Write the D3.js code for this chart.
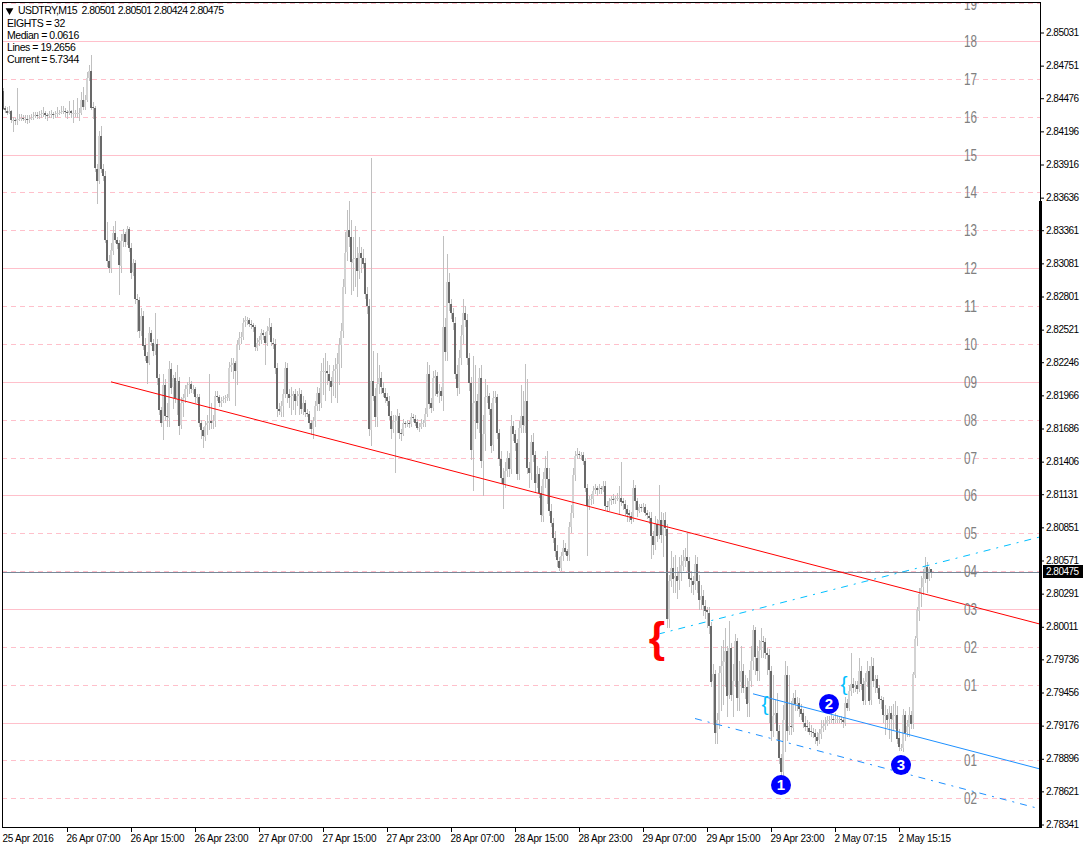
<!DOCTYPE html>
<html>
<head>
<meta charset="utf-8">
<title>USDTRY,M15</title>
<script src="https://cdnjs.cloudflare.com/ajax/libs/d3/7.8.5/d3.min.js"></script>
<style>
    html, body { margin: 0; background: #fff; }
    svg { display: block; }
    text { font-family: "Liberation Sans", Arial, sans-serif; }
</style>
</head>
<body>
<div id="chart"></div>
<script>
'use strict';

const symbolTitle = 'USDTRY,M15  2.80501 2.80501 2.80424 2.80475';
const infoLines = ['EIGHTS = 32', 'Median = 0.0616', 'Lines = 19.2656', 'Current = 5.7344'];

const priceTicks = [2.85031, 2.84751, 2.84476, 2.84196, 2.83916, 2.83636, 2.83361, 2.83081, 2.82801, 2.82521,
    2.82246, 2.81966, 2.81686, 2.81406, 2.81131, 2.80851, 2.80571, 2.80291, 2.80011, 2.79736,
    2.79456, 2.79176, 2.78896, 2.78621, 2.78341];
const timeTickBars = [0, 32, 64, 96, 128, 160, 192, 224, 256, 288, 320, 352, 384, 416, 448];
const timeLabels = ['25 Apr 2016', '26 Apr 07:00', '26 Apr 15:00', '26 Apr 23:00', '27 Apr 07:00', '27 Apr 15:00',
    '27 Apr 23:00', '28 Apr 07:00', '28 Apr 15:00', '28 Apr 23:00', '29 Apr 07:00', '29 Apr 15:00',
    '29 Apr 23:00', '2 May 07:15', '2 May 15:15'];

const levelPrices = [2.85272, 2.84955, 2.84634, 2.84313, 2.83992, 2.83679, 2.83358, 2.83038, 2.82717, 2.82396, 2.82075,
    2.81754, 2.81433, 2.81120, 2.80799, 2.80478, 2.80157, 2.79836, 2.79515, 2.79194, 2.78882, 2.78561];
const levelLabels = ['19', '18', '17', '16', '15', '14', '13', '12', '11', '10', '09',
    '08', '07', '06', '05', '04', '03', '02', '01', '', '01', '02'];
const levelSolid = [false, true, false, false, true, false, false, true, false, false, true,
    false, false, true, false, false, true, false, false, true, false, false];

const currentPrice = 2.80475;
const firstOpen = 2.8454;

const closes = [
    2.8439, 2.8437, 2.8435, 2.8437, 2.8429, 2.8429, 2.8428, 2.8430, 2.8430, 2.8431,
    2.8430, 2.8430, 2.8429, 2.8430, 2.8431, 2.8432, 2.8433, 2.8432, 2.8433, 2.8434,
    2.8435, 2.8433, 2.8432, 2.8434, 2.8434, 2.8433, 2.8434, 2.8435, 2.8435, 2.8436,
    2.8437, 2.8436, 2.8435, 2.8437, 2.8435, 2.8435, 2.8435, 2.8435, 2.8435, 2.8446,
    2.8440, 2.8446, 2.8465, 2.8471, 2.8440, 2.8439, 2.8388, 2.8378, 2.8416, 2.8388,
    2.8382, 2.8328, 2.8310, 2.8304, 2.8319, 2.8334, 2.8328, 2.8325, 2.8306, 2.8327,
    2.8333, 2.8326, 2.8337, 2.8321, 2.8300, 2.8308, 2.8278, 2.8277, 2.8251, 2.8264,
    2.8239, 2.8230, 2.8224, 2.8249, 2.8241, 2.8234, 2.8240, 2.8211, 2.8184, 2.8173,
    2.8205, 2.8179, 2.8178, 2.8219, 2.8203, 2.8211, 2.8194, 2.8209, 2.8171, 2.8190,
    2.8194, 2.8202, 2.8205, 2.8206, 2.8202, 2.8202, 2.8195, 2.8195, 2.8173, 2.8167,
    2.8162, 2.8171, 2.8173, 2.8175, 2.8173, 2.8175, 2.8196, 2.8195, 2.8190, 2.8192,
    2.8193, 2.8194, 2.8195, 2.8220, 2.8222, 2.8224, 2.8217, 2.8239, 2.8245, 2.8246,
    2.8258, 2.8260, 2.8260, 2.8257, 2.8256, 2.8254, 2.8237, 2.8241, 2.8243, 2.8249,
    2.8247, 2.8241, 2.8251, 2.8254, 2.8241, 2.8240, 2.8220, 2.8185, 2.8183, 2.8188,
    2.8198, 2.8220, 2.8198, 2.8195, 2.8196, 2.8198, 2.8192, 2.8196, 2.8198, 2.8185,
    2.8190, 2.8182, 2.8181, 2.8173, 2.8168, 2.8175, 2.8188, 2.8199, 2.8190, 2.8217,
    2.8217, 2.8217, 2.8215, 2.8209, 2.8204, 2.8217, 2.8219, 2.8223, 2.8239, 2.8251,
    2.8288, 2.8317, 2.8336, 2.8330, 2.8309, 2.8312, 2.8313, 2.8302, 2.8317, 2.8313,
    2.8308, 2.8282, 2.8272, 2.8168, 2.8209, 2.8196, 2.8178, 2.8206, 2.8211, 2.8203,
    2.8199, 2.8195, 2.8192, 2.8179, 2.8168, 2.8175, 2.8175, 2.8179, 2.8165, 2.8164,
    2.8173, 2.8172, 2.8173, 2.8172, 2.8178, 2.8177, 2.8174, 2.8169, 2.8170, 2.8173,
    2.8173, 2.8181, 2.8215, 2.8190, 2.8186, 2.8211, 2.8213, 2.8198, 2.8200, 2.8196,
    2.8254, 2.8233, 2.8292, 2.8274, 2.8266, 2.8258, 2.8215, 2.8203, 2.8228, 2.8247,
    2.8266, 2.8260, 2.8228, 2.8207, 2.8150, 2.8190, 2.8192, 2.8173, 2.8211, 2.8141,
    2.8164, 2.8195, 2.8196, 2.8185, 2.8154, 2.8194, 2.8195, 2.8165, 2.8143, 2.8127,
    2.8122, 2.8133, 2.8144, 2.8135, 2.8171, 2.8164, 2.8156, 2.8130, 2.8169, 2.8179,
    2.8171, 2.8192, 2.8135, 2.8131, 2.8157, 2.8146, 2.8122, 2.8130, 2.8114, 2.8095,
    2.8126, 2.8135, 2.8126, 2.8099, 2.8089, 2.8076, 2.8065, 2.8057, 2.8051, 2.8061,
    2.8068, 2.8065, 2.8061, 2.8085, 2.8097, 2.8129, 2.8145, 2.8147, 2.8146, 2.8146,
    2.8141, 2.8118, 2.8103, 2.8109, 2.8109, 2.8116, 2.8118, 2.8116, 2.8118, 2.8117,
    2.8120, 2.8103, 2.8102, 2.8107, 2.8109, 2.8108, 2.8110, 2.8110, 2.8110, 2.8107,
    2.8105, 2.8101, 2.8097, 2.8095, 2.8092, 2.8118, 2.8107, 2.8099, 2.8102, 2.8101,
    2.8102, 2.8097, 2.8095, 2.8093, 2.8078, 2.8070, 2.8088, 2.8078, 2.8091, 2.8078,
    2.8091, 2.8084, 2.8008, 2.8040, 2.8051, 2.8042, 2.8044, 2.8040, 2.8047, 2.8053,
    2.8057, 2.8060, 2.8057, 2.8042, 2.8040, 2.8037, 2.8054, 2.8040, 2.8024, 2.8027,
    2.8019, 2.8015, 2.8013, 2.8002, 2.7955, 2.7961, 2.7911, 2.7922, 2.7962, 2.7968,
    2.7972, 2.7981, 2.7943, 2.7983, 2.7943, 2.7955, 2.7989, 2.7941, 2.7955, 2.7964,
    2.7950, 2.7950, 2.7936, 2.7955, 2.7972, 2.7998, 2.7975, 2.7964, 2.7981, 2.7989,
    2.7988, 2.7979, 2.7977, 2.7964, 2.7913, 2.7926, 2.7928, 2.7913, 2.7890, 2.7878,
    2.7922, 2.7960, 2.7913, 2.7917, 2.7916, 2.7941, 2.7936, 2.7937, 2.7932, 2.7928,
    2.7920, 2.7917, 2.7916, 2.7913, 2.7912, 2.7911, 2.7908, 2.7905, 2.7911, 2.7915,
    2.7917, 2.7919, 2.7922, 2.7922, 2.7923, 2.7922, 2.7923, 2.7923, 2.7923, 2.7922,
    2.7920, 2.7937, 2.7933, 2.7947, 2.7953, 2.7950, 2.7952, 2.7949, 2.7964, 2.7953,
    2.7939, 2.7955, 2.7964, 2.7939, 2.7968, 2.7955, 2.7957, 2.7949, 2.7940, 2.7939,
    2.7926, 2.7927, 2.7923, 2.7928, 2.7923, 2.7927, 2.7927, 2.7907, 2.7899, 2.7899,
    2.7927, 2.7912, 2.7917, 2.7927, 2.7919, 2.7961, 2.7991, 2.8015, 2.8029, 2.8034,
    2.8042, 2.8052, 2.8042, 2.80501, 2.80475
];

const highs = [
    2.8456, 2.8441, 2.8440, 2.8441, 2.8438, 2.8432, 2.8431, 2.8456, 2.8434, 2.8434,
    2.8433, 2.8433, 2.8433, 2.8433, 2.8434, 2.8436, 2.8436, 2.8436, 2.8437, 2.8438,
    2.8440, 2.8437, 2.8435, 2.8437, 2.8438, 2.8436, 2.8437, 2.8440, 2.8438, 2.8441,
    2.8441, 2.8439, 2.8438, 2.8445, 2.8438, 2.8446, 2.8438, 2.8448, 2.8439, 2.8453,
    2.8457, 2.8450, 2.8470, 2.8476, 2.8484, 2.8444, 2.8441, 2.8392, 2.8420, 2.8424,
    2.8392, 2.8386, 2.8343, 2.8315, 2.8325, 2.8340, 2.8344, 2.8330, 2.8328, 2.8333,
    2.8337, 2.8335, 2.8340, 2.8339, 2.8325, 2.8312, 2.8311, 2.8282, 2.8280, 2.8270,
    2.8268, 2.8245, 2.8233, 2.8254, 2.8252, 2.8244, 2.8266, 2.8244, 2.8215, 2.8187,
    2.8215, 2.8210, 2.8190, 2.8226, 2.8224, 2.8214, 2.8216, 2.8222, 2.8212, 2.8195,
    2.8198, 2.8205, 2.8208, 2.8212, 2.8209, 2.8205, 2.8204, 2.8198, 2.8198, 2.8176,
    2.8170, 2.8175, 2.8180, 2.8215, 2.8190, 2.8180, 2.8200, 2.8200, 2.8197, 2.8195,
    2.8196, 2.8197, 2.8198, 2.8225, 2.8228, 2.8228, 2.8226, 2.8243, 2.8250, 2.8250,
    2.8262, 2.8264, 2.8263, 2.8262, 2.8260, 2.8258, 2.8256, 2.8245, 2.8247, 2.8253,
    2.8252, 2.8250, 2.8255, 2.8262, 2.8258, 2.8245, 2.8244, 2.8224, 2.8190, 2.8192,
    2.8202, 2.8225, 2.8224, 2.8202, 2.8204, 2.8200, 2.8202, 2.8200, 2.8203, 2.8201,
    2.8196, 2.8193, 2.8185, 2.8183, 2.8176, 2.8178, 2.8192, 2.8204, 2.8203, 2.8224,
    2.8228, 2.8232, 2.8226, 2.8222, 2.8212, 2.8222, 2.8228, 2.8232, 2.8245, 2.8258,
    2.8295, 2.8335, 2.8353, 2.8361, 2.8345, 2.8330, 2.8340, 2.8322, 2.8330, 2.8322,
    2.8320, 2.8313, 2.8288, 2.8278, 2.8397, 2.8234, 2.8203, 2.8232, 2.8222, 2.8216,
    2.8208, 2.8203, 2.8199, 2.8196, 2.8183, 2.8180, 2.8180, 2.8185, 2.8182, 2.8168,
    2.8177, 2.8175, 2.8176, 2.8175, 2.8182, 2.8181, 2.8180, 2.8177, 2.8173, 2.8177,
    2.8176, 2.8186, 2.8225, 2.8222, 2.8194, 2.8217, 2.8218, 2.8216, 2.8206, 2.8204,
    2.8331, 2.8262, 2.8316, 2.8300, 2.8278, 2.8270, 2.8263, 2.8222, 2.8235, 2.8256,
    2.8278, 2.8272, 2.8265, 2.8232, 2.8212, 2.8230, 2.8222, 2.8198, 2.8220, 2.8222,
    2.8180, 2.8210, 2.8205, 2.8199, 2.8190, 2.8200, 2.8200, 2.8198, 2.8168, 2.8150,
    2.8135, 2.8140, 2.8150, 2.8148, 2.8180, 2.8175, 2.8167, 2.8160, 2.8175, 2.8205,
    2.8200, 2.8223, 2.8210, 2.8140, 2.8163, 2.8165, 2.8150, 2.8137, 2.8135, 2.8120,
    2.8132, 2.8145, 2.8150, 2.8135, 2.8105, 2.8093, 2.8082, 2.8070, 2.8060, 2.8064,
    2.8074, 2.8072, 2.8067, 2.8090, 2.8104, 2.8135, 2.8150, 2.8152, 2.8150, 2.8149,
    2.8149, 2.8144, 2.8122, 2.8112, 2.8113, 2.8120, 2.8122, 2.8120, 2.8122, 2.8120,
    2.8124, 2.8124, 2.8107, 2.8110, 2.8112, 2.8113, 2.8112, 2.8114, 2.8120, 2.8140,
    2.8110, 2.8108, 2.8104, 2.8100, 2.8098, 2.8125, 2.8121, 2.8110, 2.8105, 2.8105,
    2.8106, 2.8105, 2.8100, 2.8098, 2.8098, 2.8082, 2.8095, 2.8092, 2.8121, 2.8098,
    2.8097, 2.8098, 2.8088, 2.8045, 2.8065, 2.8060, 2.8062, 2.8052, 2.8060, 2.8062,
    2.8066, 2.8068, 2.8081, 2.8060, 2.8048, 2.8044, 2.8062, 2.8060, 2.8045, 2.8036,
    2.8032, 2.8024, 2.8018, 2.8018, 2.8005, 2.7970, 2.7965, 2.7928, 2.7968, 2.7985,
    2.7990, 2.8000, 2.7985, 2.8006, 2.7987, 2.7970, 2.7995, 2.7992, 2.7972, 2.7985,
    2.7970, 2.7960, 2.7958, 2.7965, 2.7985, 2.8003, 2.8001, 2.7985, 2.7990, 2.8000,
    2.7993, 2.7992, 2.7983, 2.7982, 2.7968, 2.7960, 2.7940, 2.7945, 2.7918, 2.7894,
    2.7935, 2.7972, 2.7968, 2.7960, 2.7938, 2.7945, 2.7948, 2.7942, 2.7941, 2.7936,
    2.7932, 2.7926, 2.7922, 2.7921, 2.7918, 2.7916, 2.7915, 2.7912, 2.7915, 2.7922,
    2.7922, 2.7925, 2.7926, 2.7926, 2.7928, 2.7926, 2.7928, 2.7927, 2.7926, 2.7926,
    2.7924, 2.7942, 2.7940, 2.7952, 2.7979, 2.7958, 2.7955, 2.7955, 2.7975, 2.7968,
    2.7958, 2.7962, 2.7972, 2.7968, 2.7976, 2.7975, 2.7960, 2.7960, 2.7952, 2.7943,
    2.7942, 2.7935, 2.7932, 2.7934, 2.7934, 2.7936, 2.7938, 2.7934, 2.7915, 2.7902,
    2.7932, 2.7930, 2.7922, 2.7933, 2.7930, 2.7963, 2.7993, 2.8018, 2.8034, 2.8044,
    2.8050, 2.8060, 2.8056, 2.8052, 2.80501
];

const lows = [
    2.8438, 2.8435, 2.8433, 2.8434, 2.8427, 2.8419, 2.8425, 2.8425, 2.8428, 2.8428,
    2.8428, 2.8427, 2.8426, 2.8427, 2.8429, 2.8429, 2.8431, 2.8430, 2.8430, 2.8431,
    2.8432, 2.8430, 2.8428, 2.8431, 2.8431, 2.8430, 2.8431, 2.8432, 2.8433, 2.8434,
    2.8434, 2.8432, 2.8430, 2.8433, 2.8431, 2.8427, 2.8432, 2.8431, 2.8428, 2.8433,
    2.8438, 2.8438, 2.8444, 2.8462, 2.8438, 2.8430, 2.8385, 2.8358, 2.8375, 2.8384,
    2.8378, 2.8325, 2.8305, 2.8300, 2.8300, 2.8315, 2.8325, 2.8320, 2.8281, 2.8300,
    2.8322, 2.8322, 2.8324, 2.8318, 2.8295, 2.8297, 2.8274, 2.8250, 2.8245, 2.8247,
    2.8235, 2.8226, 2.8206, 2.8222, 2.8238, 2.8230, 2.8231, 2.8205, 2.8180, 2.8170,
    2.8159, 2.8175, 2.8170, 2.8170, 2.8198, 2.8185, 2.8190, 2.8180, 2.8163, 2.8168,
    2.8178, 2.8190, 2.8195, 2.8198, 2.8199, 2.8198, 2.8190, 2.8190, 2.8170, 2.8160,
    2.8152, 2.8158, 2.8163, 2.8167, 2.8168, 2.8168, 2.8170, 2.8192, 2.8187, 2.8187,
    2.8190, 2.8190, 2.8192, 2.8192, 2.8216, 2.8210, 2.8188, 2.8205, 2.8235, 2.8240,
    2.8243, 2.8254, 2.8256, 2.8254, 2.8253, 2.8250, 2.8234, 2.8234, 2.8238, 2.8240,
    2.8243, 2.8222, 2.8238, 2.8248, 2.8238, 2.8236, 2.8215, 2.8178, 2.8180, 2.8178,
    2.8178, 2.8194, 2.8190, 2.8186, 2.8180, 2.8184, 2.8180, 2.8188, 2.8180, 2.8181,
    2.8180, 2.8178, 2.8178, 2.8168, 2.8163, 2.8160, 2.8170, 2.8183, 2.8183, 2.8186,
    2.8197, 2.8192, 2.8205, 2.8200, 2.8190, 2.8196, 2.8194, 2.8190, 2.8205, 2.8220,
    2.8245, 2.8282, 2.8310, 2.8322, 2.8281, 2.8285, 2.8288, 2.8280, 2.8295, 2.8300,
    2.8304, 2.8278, 2.8265, 2.8162, 2.8154, 2.8192, 2.8170, 2.8170, 2.8198, 2.8198,
    2.8195, 2.8190, 2.8188, 2.8176, 2.8160, 2.8165, 2.8131, 2.8165, 2.8160, 2.8158,
    2.8162, 2.8169, 2.8170, 2.8169, 2.8170, 2.8174, 2.8171, 2.8167, 2.8166, 2.8168,
    2.8170, 2.8170, 2.8178, 2.8185, 2.8182, 2.8183, 2.8196, 2.8195, 2.8190, 2.8192,
    2.8183, 2.8226, 2.8226, 2.8268, 2.8261, 2.8252, 2.8210, 2.8196, 2.8198, 2.8222,
    2.8240, 2.8254, 2.8222, 2.8200, 2.8142, 2.8116, 2.8160, 2.8168, 2.8165, 2.8135,
    2.8112, 2.8150, 2.8190, 2.8180, 2.8148, 2.8150, 2.8190, 2.8160, 2.8137, 2.8122,
    2.8101, 2.8118, 2.8128, 2.8128, 2.8130, 2.8158, 2.8150, 2.8125, 2.8125, 2.8165,
    2.8165, 2.8165, 2.8130, 2.8118, 2.8125, 2.8140, 2.8115, 2.8118, 2.8110, 2.8090,
    2.8090, 2.8118, 2.8105, 2.8095, 2.8085, 2.8072, 2.8060, 2.8052, 2.8048, 2.8048,
    2.8057, 2.8062, 2.8057, 2.8057, 2.8080, 2.8093, 2.8124, 2.8143, 2.8143, 2.8142,
    2.8138, 2.8115, 2.8061, 2.8100, 2.8104, 2.8105, 2.8113, 2.8112, 2.8113, 2.8113,
    2.8115, 2.8100, 2.8098, 2.8099, 2.8104, 2.8105, 2.8105, 2.8107, 2.8096, 2.8103,
    2.8100, 2.8095, 2.8090, 2.8090, 2.8088, 2.8090, 2.8100, 2.8094, 2.8097, 2.8098,
    2.8098, 2.8095, 2.8092, 2.8088, 2.8058, 2.8062, 2.8066, 2.8073, 2.8075, 2.8072,
    2.8060, 2.8078, 2.8000, 2.8000, 2.8035, 2.8030, 2.8030, 2.8025, 2.8032, 2.8040,
    2.8048, 2.8052, 2.8048, 2.8035, 2.8030, 2.8028, 2.8032, 2.8030, 2.8015, 2.8015,
    2.8010, 2.8008, 2.8000, 2.7995, 2.7950, 2.7918, 2.7902, 2.7902, 2.7915, 2.7930,
    2.7935, 2.7950, 2.7925, 2.7940, 2.7938, 2.7925, 2.7950, 2.7930, 2.7930, 2.7945,
    2.7945, 2.7940, 2.7925, 2.7925, 2.7950, 2.7965, 2.7960, 2.7955, 2.7955, 2.7975,
    2.7975, 2.7974, 2.7960, 2.7920, 2.7905, 2.7908, 2.7920, 2.7905, 2.7885, 2.7875,
    2.7875, 2.7895, 2.7905, 2.7910, 2.7910, 2.7912, 2.7930, 2.7930, 2.7925, 2.7922,
    2.7916, 2.7913, 2.7912, 2.7910, 2.7908, 2.7907, 2.7902, 2.7900, 2.7902, 2.7906,
    2.7912, 2.7914, 2.7917, 2.7919, 2.7920, 2.7919, 2.7920, 2.7920, 2.7920, 2.7919,
    2.7916, 2.7917, 2.7930, 2.7930, 2.7943, 2.7945, 2.7946, 2.7944, 2.7946, 2.7948,
    2.7935, 2.7935, 2.7950, 2.7935, 2.7935, 2.7950, 2.7945, 2.7945, 2.7936, 2.7932,
    2.7920, 2.7910, 2.7916, 2.7906, 2.7904, 2.7914, 2.7915, 2.7902, 2.7896, 2.7896,
    2.7895, 2.7905, 2.7908, 2.7908, 2.7915, 2.7915, 2.7958, 2.7985, 2.8006, 2.8018,
    2.8028, 2.8038, 2.8030, 2.8040, 2.80424
];

// trend lines as [bar, price] pairs, the last point sits past the newest bar
const redLine = [[54, 2.8208], [518.5, 2.80034]];
const channelTop = [[327.5, 2.79949], [518.5, 2.80770]];
const channelMid = [[375, 2.79445], [518.5, 2.78810]];
const channelLow = [[346, 2.79236], [518.5, 2.78473]];

const markers = [
    { label: '1', bar: 389, price: 2.78675 },
    { label: '2', bar: 413, price: 2.79359 },
    { label: '3', bar: 449, price: 2.78843 }
];
const braces = [
    { bar: 327, price: 2.79916, size: 42, color: '#ff0000', weight: 'bold' },
    { bar: 381, price: 2.79360, size: 21, color: '#00bfff', weight: 'normal' },
    { bar: 420.5, price: 2.79530, size: 21, color: '#00bfff', weight: 'normal' }
];

class CandleChart {
    constructor(container, width, height) {
        this.width = width;
        this.height = height;
        this.plot = { left: 2, top: 2, right: 1040, bottom: 827 };

        this.svg = d3.select(container)
            .append('svg')
            .attr('width', width)
            .attr('height', height);

        this.svg.append('defs').append('clipPath')
            .attr('id', 'plot-clip')
            .append('rect')
            .attr('x', this.plot.left)
            .attr('y', this.plot.top)
            .attr('width', this.plot.right - this.plot.left)
            .attr('height', this.plot.bottom - this.plot.top);

        this.scaleX = d3.scaleLinear().domain([0, 448]).range([3, 899]);
        this.scaleY = d3.scaleLinear().domain([2.85031, 2.78341]).range([32.5, 824.5]);

        this.chart = this.svg.append('g').attr('clip-path', 'url(#plot-clip)');
    }

    crisp(v) {
        return Math.floor(v) + 0.5;
    }

    drawLevels() {
        let levels = levelPrices.map((price, i) => ({ price, label: levelLabels[i], solid: levelSolid[i] }));

        this.chart.selectAll('line.level')
            .data(levels)
            .join('line')
            .attr('class', 'level')
            .attr('x1', this.plot.left)
            .attr('x2', this.plot.right)
            .attr('y1', d => this.crisp(this.scaleY(d.price)))
            .attr('y2', d => this.crisp(this.scaleY(d.price)))
            .attr('stroke', '#ffc0cb')
            .attr('stroke-dasharray', d => d.solid ? null : '5,4')
            .attr('shape-rendering', 'crispEdges');
    }

    drawCandles() {
        let bars = closes.map((close, i) => ({
            i,
            open: i === 0 ? firstOpen : closes[i - 1],
            close,
            high: highs[i],
            low: lows[i]
        }));

        this.chart.append('g').selectAll('line')
            .data(bars)
            .join('line')
            .attr('x1', d => this.scaleX(d.i) + 0.5)
            .attr('x2', d => this.scaleX(d.i) + 0.5)
            .attr('y1', d => Math.round(this.scaleY(d.high)))
            .attr('y2', d => Math.round(this.scaleY(d.low)))
            .attr('stroke', '#c0c0c0')
            .attr('shape-rendering', 'crispEdges');

        this.chart.append('g').selectAll('rect')
            .data(bars)
            .join('rect')
            .attr('x', d => this.scaleX(d.i) - 1)
            .attr('width', 2)
            .attr('y', d => Math.round(this.scaleY(Math.max(d.open, d.close))))
            .attr('height', d => Math.max(1, Math.round(Math.abs(this.scaleY(d.open) - this.scaleY(d.close)))))
            .attr('fill', d => d.close < d.open ? '#696969' : '#d3d3d3')
            .attr('shape-rendering', 'crispEdges');
    }

    drawCurrentPrice() {
        let y = Math.round(this.scaleY(currentPrice)) + 0.5;
        this.chart.append('line')
            .attr('x1', this.plot.left)
            .attr('x2', this.plot.right)
            .attr('y1', y)
            .attr('y2', y)
            .attr('stroke', '#778899')
            .attr('shape-rendering', 'crispEdges');
    }

    drawTrendLines() {
        let line = d3.line()
            .x(d => this.scaleX(d[0]))
            .y(d => this.scaleY(d[1]));

        let specs = [
            { data: redLine, color: '#ff0000', dash: null },
            { data: channelTop, color: '#00bfff', dash: '7,6,2,6' },
            { data: channelMid, color: '#1e90ff', dash: null },
            { data: channelLow, color: '#1e90ff', dash: '7,6,2,6' }
        ];

        this.chart.append('g').selectAll('path')
            .data(specs)
            .join('path')
            .attr('d', d => line(d.data))
            .attr('fill', 'none')
            .attr('stroke', d => d.color)
            .attr('stroke-width', 1)
            .attr('stroke-dasharray', d => d.dash);
    }

    drawLevelLabels() {
        let levels = levelPrices.map((price, i) => ({ price, label: levelLabels[i] }));

        this.chart.append('g').selectAll('text')
            .data(levels)
            .join('text')
            .attr('x', 970.5)
            .attr('y', d => this.scaleY(d.price))
            .attr('dy', '0.36em')
            .attr('text-anchor', 'middle')
            .attr('font-size', 16)
            .attr('textLength', 13)
            .attr('lengthAdjust', 'spacingAndGlyphs')
            .attr('fill', '#808080')
            .text(d => d.label);
    }

    drawAnnotations() {
        this.chart.append('g').selectAll('text')
            .data(braces)
            .join('text')
            .attr('x', d => this.scaleX(d.bar))
            .attr('y', d => this.scaleY(d.price))
            .attr('dy', '0.34em')
            .attr('text-anchor', 'middle')
            .attr('font-size', d => d.size)
            .attr('font-weight', d => d.weight)
            .attr('fill', d => d.color)
            .text('{');

        let marks = this.chart.append('g').selectAll('g')
            .data(markers)
            .join('g')
            .attr('transform', d => `translate(${this.scaleX(d.bar)},${this.scaleY(d.price)})`);

        marks.append('circle').attr('r', 10).attr('fill', '#0000ff');
        marks.append('text')
            .attr('dy', '0.36em')
            .attr('text-anchor', 'middle')
            .attr('font-size', 15)
            .attr('font-weight', 'bold')
            .attr('fill', '#fff')
            .text(d => d.label);
    }

    drawFrame() {
        let p = this.plot;
        this.svg.append('rect')
            .attr('x', p.left + 0.5)
            .attr('y', p.top + 0.5)
            .attr('width', p.right - p.left)
            .attr('height', p.bottom - p.top)
            .attr('fill', 'none')
            .attr('stroke', '#000')
            .attr('shape-rendering', 'crispEdges');

        // the heavy stretch of the right edge
        this.svg.append('rect')
            .attr('x', p.right - 1)
            .attr('y', 201)
            .attr('width', 3)
            .attr('height', p.bottom - 201 + 1)
            .attr('fill', '#000');
    }

    drawAxes() {
        let p = this.plot;

        let axisY = d3.axisRight(this.scaleY)
            .tickValues(priceTicks)
            .tickFormat(d3.format('.5f'))
            .tickSize(3)
            .tickPadding(2);

        let gy = this.svg.append('g')
            .attr('transform', `translate(${p.right + 1},0)`)
            .call(axisY);
        gy.select('.domain').remove();
        gy.selectAll('text').attr('font-size', 10).attr('fill', '#000')
            .style('font-family', '"Liberation Sans", sans-serif')
            .style('letter-spacing', '-0.5px');

        let axisX = d3.axisBottom(this.scaleX)
            .tickValues(timeTickBars)
            .tickFormat((d, i) => timeLabels[i])
            .tickSize(4)
            .tickPadding(3);

        let gx = this.svg.append('g')
            .attr('transform', `translate(0,${p.bottom + 1})`)
            .call(axisX);
        gx.select('.domain').remove();
        gx.selectAll('text').attr('text-anchor', 'start').attr('font-size', 10).attr('fill', '#000')
            .attr('dx', -1)
            .style('font-family', '"Liberation Sans", sans-serif')
            .style('letter-spacing', '-0.25px');
        gx.selectAll('line').filter(d => d === 0).remove();

        // price tag of the last quote
        let tagY = this.scaleY(currentPrice);
        this.svg.append('rect')
            .attr('x', 1043)
            .attr('y', Math.floor(tagY) - 6)
            .attr('width', 40)
            .attr('height', 13)
            .attr('fill', '#000');
        this.svg.append('text')
            .attr('x', 1046)
            .attr('y', tagY)
            .attr('dy', '0.36em')
            .attr('font-size', 10)
            .attr('fill', '#fff')
            .style('letter-spacing', '-0.5px')
            .text(d3.format('.5f')(currentPrice));
    }

    drawHeader() {
        this.svg.append('path')
            .attr('d', d3.symbol().type(d3.symbolTriangle).size(26)())
            .attr('transform', 'translate(9.5,10.5) rotate(180)')
            .attr('fill', '#000');

        this.svg.append('text')
            .attr('x', 18)
            .attr('y', 14)
            .attr('font-size', 10.5)
            .attr('fill', '#000')
            .style('white-space', 'pre')
            .style('letter-spacing', '-0.6px')
            .text(symbolTitle);

        this.svg.append('g').selectAll('text')
            .data(infoLines)
            .join('text')
            .attr('x', 7)
            .attr('y', (d, i) => 27 + i * 12)
            .attr('font-size', 10.5)
            .attr('fill', '#000')
            .style('letter-spacing', '-0.45px')
            .text(d => d);
    }

    render() {
        console.log('Rendering CandleChart...', closes.length, highs.length, lows.length);
        this.drawLevels();
        this.drawCandles();
        this.drawCurrentPrice();
        this.drawTrendLines();
        this.drawLevelLabels();
        this.drawAnnotations();
        this.drawFrame();
        this.drawAxes();
        this.drawHeader();
    }
}

new CandleChart('#chart', 1083, 848).render();
</script>
</body>
</html>
